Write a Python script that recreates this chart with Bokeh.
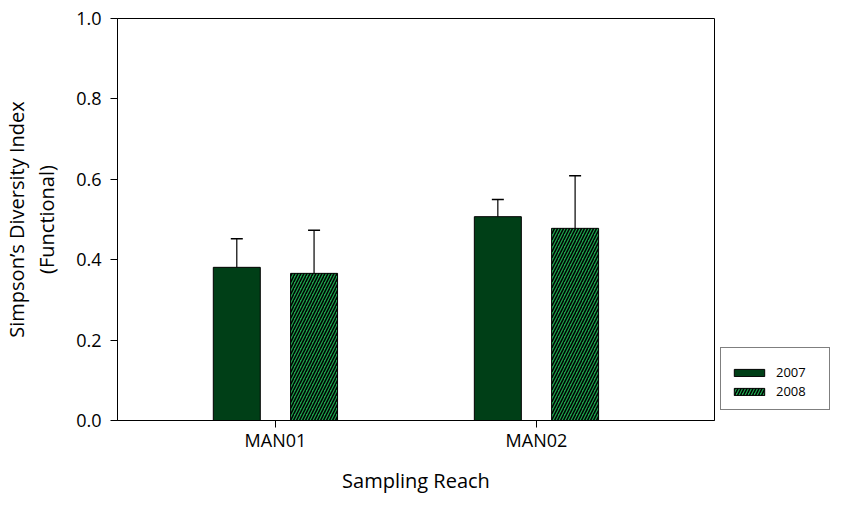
from bokeh.plotting import figure
from bokeh.models import (ColumnDataSource, Range1d, FixedTicker, Legend, LegendItem,
                          Whisker, TeeHead)
from bokeh.embed import file_html
from bokeh.resources import INLINE

# data
reaches = ["MAN01", "MAN02"]
years = ["2007", "2008"]
mean_2007 = [0.381, 0.507]
err_2007 = [0.071, 0.043]
mean_2008 = [0.366, 0.478]
err_2008 = [0.107, 0.131]
y_ticks = [0.0, 0.2, 0.4, 0.6, 0.8, 1.0]

FONT = "Open Sans"
pos = [1, 2]
off = 0.148
bw = 0.18

src07 = ColumnDataSource(dict(x=[p_ - off for p_ in pos], top=mean_2007,
                              up=[m + e for m, e in zip(mean_2007, err_2007)]))
src08 = ColumnDataSource(dict(x=[p_ + off for p_ in pos], top=mean_2008,
                              up=[m + e for m, e in zip(mean_2008, err_2008)]))

p = figure(frame_width=597, frame_height=402, output_backend="svg",
           toolbar_location=None,
           x_range=Range1d(0.395, 2.682), y_range=Range1d(0, 1),
           min_border_left=109, min_border_top=18, min_border_right=121,
           min_border_bottom=10)

p.xgrid.visible = False
p.ygrid.visible = False
p.outline_line_color = "black"
p.outline_line_width = 1

b07 = p.vbar(x="x", top="top", width=bw, source=src07, fill_color="#003f17",
             line_color="black", line_width=1)
b08 = p.vbar(x="x", top="top", width=bw, source=src08, fill_color="#1ba24c",
             line_color="black", line_width=1, hatch_pattern="/",
             hatch_color="black", hatch_weight=1.5, hatch_scale=6)

for s in (src07, src08):
    w = Whisker(base="x", lower="top", upper="up", source=s, line_color="black",
                line_width=1.2, lower_head=None,
                upper_head=TeeHead(size=12, line_color="black", line_width=1.5))
    p.add_layout(w)

p.xaxis.ticker = FixedTicker(ticks=pos)
p.xaxis.major_label_overrides = {1: reaches[0], 2: reaches[1]}
p.yaxis.ticker = FixedTicker(ticks=y_ticks)
p.yaxis.major_label_overrides = {t: f"{t:.1f}" for t in y_ticks}
p.xaxis.minor_tick_line_color = None
p.yaxis.minor_tick_line_color = None
for ax in (p.xaxis, p.yaxis):
    ax.major_tick_out = 7
    ax.major_tick_in = 0
    ax.axis_line_color = "black"
    ax.major_tick_line_color = "black"
    ax.major_label_text_font = FONT
    ax.major_label_text_font_size = "18px"
    ax.major_label_text_color = "black"
    ax.axis_label_text_font = FONT
    ax.axis_label_text_font_size = "20px"
    ax.axis_label_text_font_style = "normal"
    ax.axis_label_text_color = "black"
    ax.axis_label_text_line_height = 1.1

p.xaxis.axis_label = "Sampling Reach"
p.xaxis.axis_label_standoff = 12
p.xaxis.major_label_standoff = 0
p.yaxis.axis_label = "Simpson\u2019s Diversity Index\n(Functional)"
p.yaxis.major_label_standoff = 9
p.yaxis.axis_label_standoff = 13

legend = Legend(items=[LegendItem(label=years[0], renderers=[b07]),
                       LegendItem(label=years[1], renderers=[b08])],
                location=(6, 10), border_line_color="black", border_line_width=1,
                title=" ", title_text_font_size="6px", title_standoff=0,
                label_text_font=FONT, label_text_font_size="13px",
                label_text_color="black",
                glyph_width=38, glyph_height=9, label_height=18, label_width=44,
                label_standoff=8, spacing=1, padding=9, margin=0,
                background_fill_alpha=1)
p.add_layout(legend, "right")

open("out.html", "w").write(file_html(p, INLINE))
